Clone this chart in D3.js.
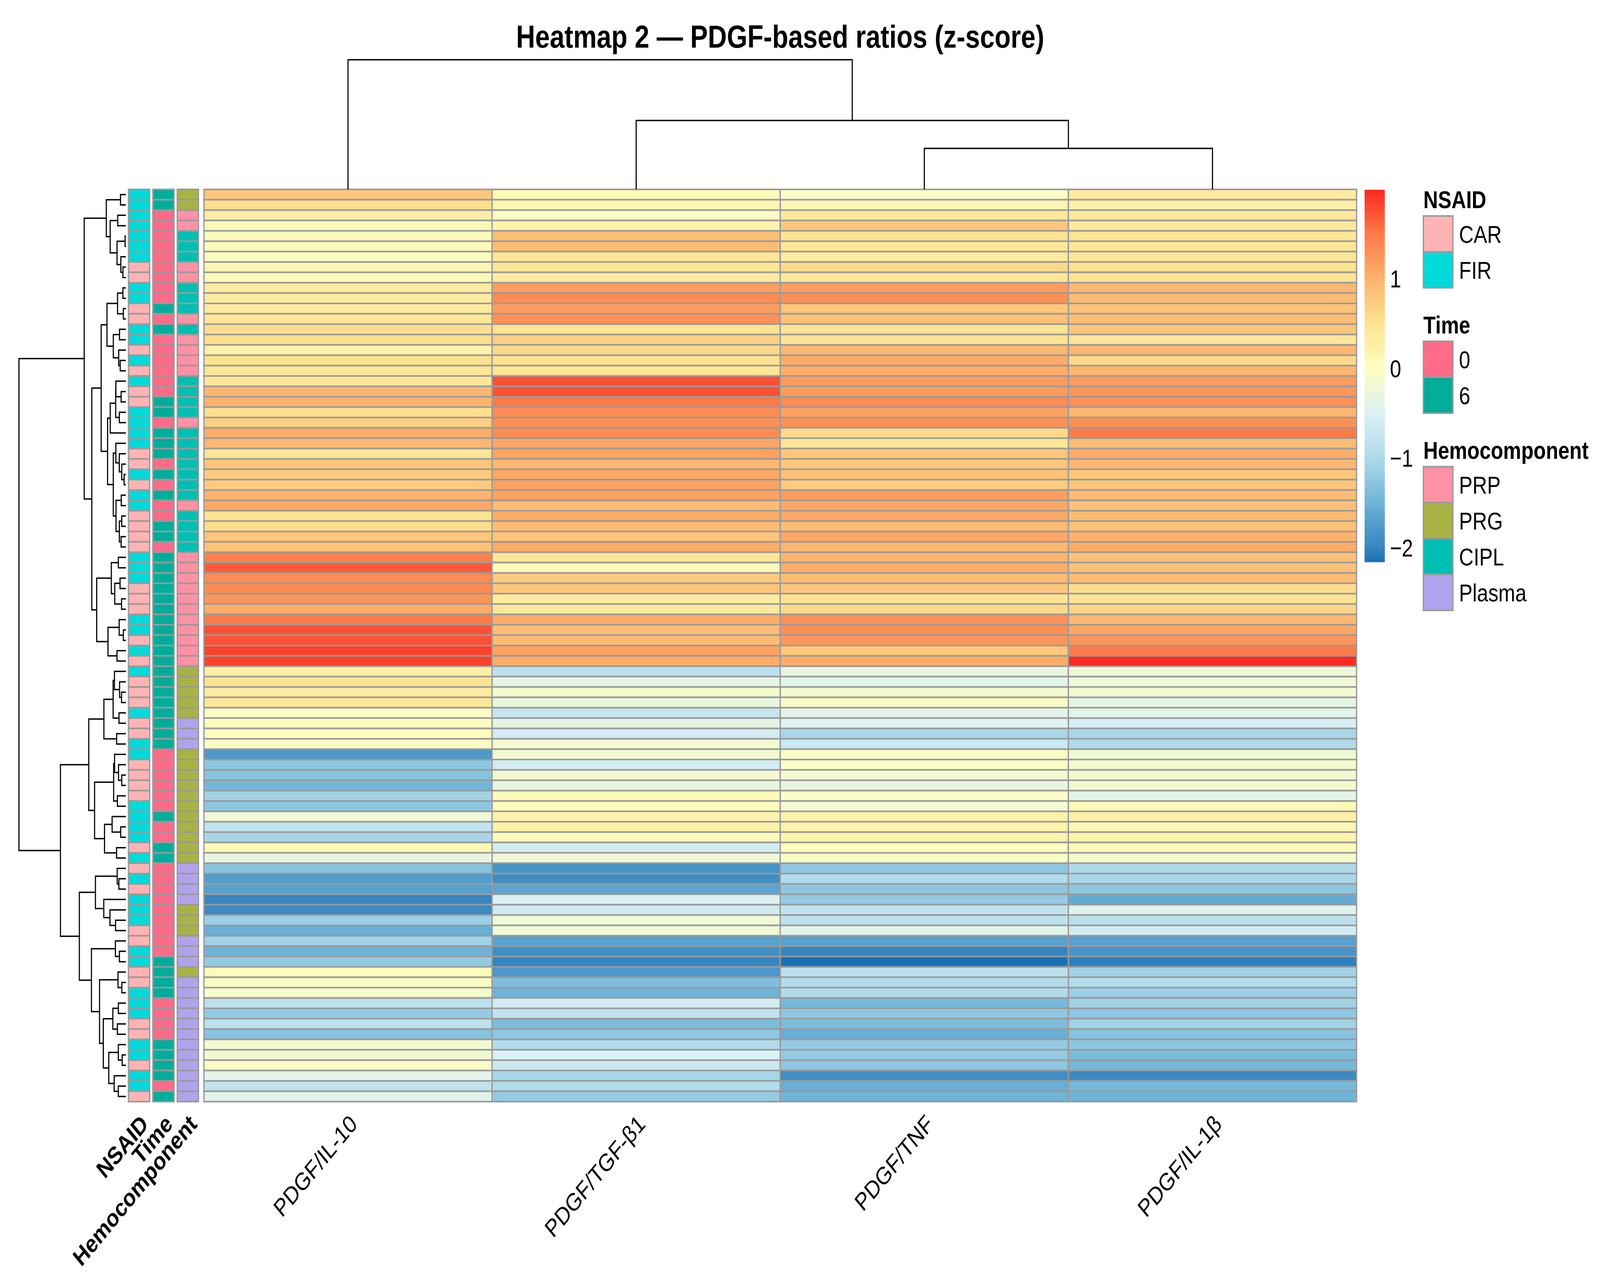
<!DOCTYPE html>
<html><head><meta charset="utf-8">
<script src="https://cdn.jsdelivr.net/npm/d3@7"></script>
<style>html,body{margin:0;padding:0;background:#fff;overflow:hidden;width:100%;height:100%;} svg{display:block;width:100vw;height:100vh;font-family:"Liberation Sans",Arial,Helvetica,sans-serif;}</style>
</head><body><svg id="chart" viewBox="0 0 4982 3288" preserveAspectRatio="none"></svg>
<script>
// ---------------- DATA ----------------
const chartTitle = "Heatmap 2 — PDGF-based ratios (z-score)";
const columns = ["PDGF/IL-10", "PDGF/TGF-β1", "PDGF/TNF", "PDGF/IL-1β"];

const zIL10 = [0.8,0.55,0.3,0.1,0.05,0.05,-0.02,0.15,0.1,0.35,0.35,0.35,0.45,0.55,0.55,
  0.25,0.5,0.45,0.45,0.95,1.0,0.55,0.7,1.05,0.95,0.45,0.8,0.75,0.75,1.0,
  1.1,0.5,0.55,0.8,0.85,1.45,1.7,1.35,1.35,1.25,1.05,1.5,1.75,1.75,1.85,1.85,
  0.3,0.5,0.35,0.4,-0.05,0.0,0.05,-0.05,-1.8,-1.25,-1.3,-1.45,-1.1,-1.25,-0.2,-0.8,
  -1.05,0.1,-0.3,-1.3,-1.75,-1.7,-2.0,-1.95,-1.15,-1.55,-1.1,-1.5,-1.2,0.05,-0.05,
  -0.1,-0.85,-1.2,-0.85,-1.3,-0.15,-0.15,-0.05,-0.4,-0.8,-0.4];
const zTGFb1 = [0.1,0.15,-0.05,0.2,0.9,0.9,0.45,0.45,0.35,1.2,1.35,1.2,1.3,0.5,0.7,
  0.6,0.5,0.45,1.75,1.75,1.5,1.35,1.3,1.35,1.1,1.15,0.95,1.1,1.15,1.15,
  0.9,1.05,0.9,0.8,1.05,0.45,0.05,0.75,0.8,0.35,0.4,1.05,0.9,0.9,1.15,1.05,
  -0.85,-0.35,-0.15,-0.3,-0.75,-0.35,-0.6,-0.15,-0.15,-0.6,-0.15,-0.3,0.1,0.05,0.2,0.25,
  0.05,-0.6,-0.2,-1.85,-1.9,-1.65,-0.5,-0.65,-0.2,-0.2,-1.7,-1.9,-2.0,-1.8,-1.35,
  -1.5,-0.6,-0.8,-1.4,-1.25,-0.95,-0.5,-0.7,-1.05,-0.95,-1.2];
const zTNF = [-0.05,0.15,0.4,0.8,0.5,0.45,0.35,0.6,0.45,1.2,1.3,0.8,0.85,0.5,0.5,
  0.95,1.05,1.05,1.2,1.2,1.35,1.15,1.3,0.6,0.45,0.8,0.8,0.85,0.75,1.2,
  1.1,1.1,0.9,1.1,0.95,1.0,1.05,0.9,0.8,0.5,0.6,1.3,1.3,1.25,0.8,1.05,
  -0.3,-0.4,-0.15,-0.05,-0.4,-0.45,-1.05,-0.7,-0.05,-0.05,-0.15,-0.3,-0.05,-0.15,0.25,0.25,
  0.2,0.0,-0.05,-1.25,-0.95,-1.25,-1.2,-0.8,-0.85,-0.4,-1.7,-2.0,-2.16,-0.85,-0.95,
  -0.95,-1.45,-1.25,-1.4,-1.55,-1.2,-1.2,-1.25,-1.9,-1.55,-1.5];
const zIL1b = [0.35,0.25,0.4,0.4,0.45,0.45,0.4,0.5,0.5,0.95,0.9,0.85,0.9,0.8,0.45,
  0.95,0.6,0.95,1.2,1.25,1.3,0.95,1.3,1.5,0.9,1.05,0.95,0.8,0.8,0.9,
  0.85,0.9,0.85,1.0,1.05,0.85,0.85,0.9,0.55,0.5,0.65,0.95,1.1,1.25,1.5,1.99,
  -0.2,-0.2,-0.15,-0.35,-0.4,-0.55,-1.05,-1.0,-0.2,-0.15,-0.15,-0.15,-0.4,0.1,0.25,0.15,
  0.2,0.05,-0.1,-1.0,-1.05,-1.25,-1.6,-0.45,-0.85,-0.6,-1.7,-1.85,-2.05,-1.1,-0.95,
  -1.15,-1.1,-1.25,-1.1,-1.3,-1.25,-1.4,-1.45,-1.95,-1.45,-1.5];

const nsaid = ["FIR","FIR","FIR","FIR","FIR","FIR","FIR","CAR","CAR","FIR","FIR","CAR","CAR","FIR","FIR",
  "CAR","FIR","CAR","FIR","CAR","CAR","FIR","FIR","FIR","FIR","CAR","CAR","FIR","CAR","FIR",
  "FIR","CAR","CAR","CAR","CAR","FIR","FIR","FIR","CAR","CAR","CAR","FIR","FIR","CAR","FIR","CAR",
  "FIR","CAR","CAR","CAR","FIR","CAR","CAR","FIR","FIR","CAR","CAR","CAR","CAR","FIR","FIR","FIR",
  "FIR","CAR","FIR","CAR","FIR","CAR","FIR","FIR","FIR","CAR","CAR","FIR","FIR","CAR","CAR",
  "FIR","FIR","FIR","CAR","CAR","FIR","FIR","CAR","FIR","FIR","CAR"];
const time = ["6","6","0","0","0","0","0","0","0","0","0","6","0","6","0",
  "0","0","0","0","0","6","6","0","6","6","6","0","6","0","6",
  "0","0","6","6","0","6","6","6","6","6","6","6","6","6","6","6",
  "6","6","6","6","6","6","6","6","0","0","0","0","0","0","6","0",
  "0","6","6","0","0","0","0","0","0","0","0","0","6","6","6",
  "6","0","0","0","0","6","6","6","6","0","6"];
const hemocomponent = ["PRG","PRG","PRP","PRP","CIPL","CIPL","CIPL","PRP","PRP","CIPL","CIPL","CIPL","PRP","CIPL","PRP",
  "PRP","PRP","PRP","CIPL","CIPL","CIPL","CIPL","PRP","CIPL","CIPL","CIPL","CIPL","CIPL","CIPL","CIPL",
  "PRP","CIPL","CIPL","CIPL","CIPL","PRP","PRP","PRP","PRP","PRP","PRP","PRP","PRP","PRP","PRP","PRP",
  "PRG","PRG","PRG","PRG","PRG","Plasma","Plasma","Plasma","PRG","PRG","PRG","PRG","PRG","PRG","PRG","PRG",
  "PRG","PRG","PRG","Plasma","Plasma","Plasma","Plasma","PRG","PRG","PRG","Plasma","Plasma","Plasma","PRG","Plasma",
  "Plasma","Plasma","Plasma","Plasma","Plasma","Plasma","Plasma","Plasma","Plasma","Plasma","Plasma"];

const annotationNames = ["NSAID", "Time", "Hemocomponent"];
const nsaidLevels = ["CAR", "FIR"];
const timeLevels = ["0", "6"];
const hemoLevels = ["PRP", "PRG", "CIPL", "Plasma"];
const legendTicks = [-2, -1, 0, 1];

// ---------------- STYLE ----------------
const annColors = {
  NSAID: {CAR: "#FFB3B5", FIR: "#00DADA"},
  Time: {"0": "#FF6B89", "6": "#00AD9A"},
  Hemocomponent: {PRP: "#FF91A4", PRG: "#A9B245", CIPL: "#00BFB2", Plasma: "#B0A3EB"}
};
const borderCol = "#9a9a9a";
const FS = 63;

const svg = d3.select("#chart");
svg.append("rect").attr("width", 4982).attr("height", 3288).attr("fill", "#fff");

const nRows = zIL10.length;
const rows = d3.range(nRows).map(i => [zIL10[i], zTGFb1[i], zTNF[i], zIL1b[i]]);
const allVals = rows.flat();
const [vmin, vmax] = d3.extent(allVals);

// colour scale (diverging blue-yellow-red), stops placed in data space
const stopVal = [-2.16, -2.0, -1.5, -1.0, -0.5, 0, 0.5, 1.0, 1.5, 1.99];
const stopCol = ["#1672B6","#3585C0","#6EB4D8","#AEDAEA","#DBF1F4","#FDFEC0","#FEE391","#FEB26C","#FE7A48","#FB2A20"];
const color = d3.scaleLinear().domain(stopVal).range(stopCol)
  .interpolate(d3.interpolateRgb).clamp(true);

// scales
const x = d3.scaleBand().domain(columns).range([635, 4224]);
const y = d3.scaleBand().domain(d3.range(nRows)).range([485, 2821]);
const ax = d3.scaleBand().domain(annotationNames).range([400, 618]).paddingInner(0.13);

// heatmap cells
const cells = [];
rows.forEach((r, i) => r.forEach((v, j) => cells.push({i, col: columns[j], v})));
svg.append("g").selectAll("rect").data(cells).join("rect")
  .attr("x", d => x(d.col)).attr("y", d => y(d.i))
  .attr("width", x.bandwidth()).attr("height", y.bandwidth())
  .attr("fill", d => color(d.v)).attr("stroke", borderCol).attr("stroke-width", 4);

// annotation cells
const annData = {NSAID: nsaid, Time: time, Hemocomponent: hemocomponent};
const annCells = [];
annotationNames.forEach(a => annData[a].forEach((lv, i) => annCells.push({a, i, lv})));
svg.append("g").selectAll("rect").data(annCells).join("rect")
  .attr("x", d => ax(d.a)).attr("y", d => y(d.i))
  .attr("width", ax.bandwidth()).attr("height", y.bandwidth())
  .attr("fill", d => annColors[d.a][d.lv]).attr("stroke", borderCol).attr("stroke-width", 4);

// ---------------- CLUSTERING (order-preserving complete linkage) ----------------
function clusterOrdered(vectors) {
  const D = vectors.map(a => vectors.map(b => Math.sqrt(d3.sum(a, (v, k) => (v - b[k]) ** 2))));
  let cl = vectors.map((v, i) => ({members: [i], node: {leaf: i, h: 0}}));
  while (cl.length > 1) {
    let best = Infinity, bi = 0;
    for (let i = 0; i < cl.length - 1; i++) {
      let m = 0;
      for (const p of cl[i].members) for (const q of cl[i + 1].members) m = Math.max(m, D[p][q]);
      if (m < best) { best = m; bi = i; }
    }
    const a = cl[bi], b = cl[bi + 1];
    cl.splice(bi, 2, {members: a.members.concat(b.members), node: {children: [a.node, b.node], h: best}});
  }
  return cl[0].node;
}
function placeNodes(node, leafPos) {
  if (node.children) {
    node.children.forEach(c => placeNodes(c, leafPos));
    node.pos = (node.children[0].pos + node.children[1].pos) / 2;
  } else node.pos = leafPos(node.leaf);
  return node;
}
function internals(node, out = []) {
  if (node.children) { out.push(node); node.children.forEach(c => internals(c, out)); }
  return out;
}

// row dendrogram
const rowRoot = placeNodes(clusterOrdered(rows), i => y(i) + y.bandwidth() / 2);
const hx = d3.scaleLinear().domain([0, rowRoot.h]).range([392, 59]);
svg.append("g").selectAll("path").data(internals(rowRoot)).join("path")
  .attr("d", n => {
    const [c1, c2] = n.children;
    return `M${hx(c1.h)},${c1.pos}H${hx(n.h)}V${c2.pos}H${hx(c2.h)}`;
  })
  .attr("fill", "none").attr("stroke", "#000").attr("stroke-width", 3.5);

// column dendrogram
const colVecs = columns.map((c, j) => rows.map(r => r[j]));
const colRoot = placeNodes(clusterOrdered(colVecs), j => x(columns[j]) + x.bandwidth() / 2);
const hy = d3.scaleLinear().domain([0, colRoot.h]).range([485, 153]);
svg.append("g").selectAll("path").data(internals(colRoot)).join("path")
  .attr("d", n => {
    const [c1, c2] = n.children;
    return `M${c1.pos},${hy(c1.h)}V${hy(n.h)}H${c2.pos}V${hy(c2.h)}`;
  })
  .attr("fill", "none").attr("stroke", "#000").attr("stroke-width", 3.5);

// ---------------- TEXT ----------------
svg.append("text").attr("x", (x.range()[0] + x.range()[1]) / 2).attr("y", 122)
  .attr("text-anchor", "middle").attr("font-weight", "bold").attr("font-size", 82)
  .text(chartTitle);

const labY = 2850;
svg.append("g").selectAll("text").data(columns).join("text")
  .attr("transform", d => `translate(${x(d) + x.bandwidth() / 2},${labY}) rotate(-45)`)
  .attr("text-anchor", "end").attr("dy", "0.72em").attr("font-size", FS)
  .text(d => d);
svg.append("g").selectAll("text").data(annotationNames).join("text")
  .attr("transform", d => `translate(${ax(d) + ax.bandwidth() / 2},${labY}) rotate(-45)`)
  .attr("text-anchor", "end").attr("dy", "0.72em").attr("font-size", FS).attr("font-weight", "bold")
  .text(d => d);

// ---------------- COLOUR LEGEND ----------------
const ly = d3.scaleLinear().domain([vmin, vmax]).range([1439, 486]);
const nSteps = 240;
const steps = d3.range(nSteps).map(k => vmin + (vmax - vmin) * k / nSteps);
const stepH = (ly(vmin) - ly(vmax)) / nSteps;
svg.append("g").selectAll("rect").data(steps).join("rect")
  .attr("x", 4249).attr("width", 63)
  .attr("y", d => ly(d) - stepH).attr("height", stepH + 0.6)
  .attr("fill", d => color(d + (vmax - vmin) / nSteps / 2));
svg.append("g").selectAll("text").data(legendTicks).join("text")
  .attr("x", 4328).attr("y", d => ly(d)).attr("dy", "0.36em")
  .attr("font-size", FS)
  .text(d => d < 0 ? "\u2212" + Math.abs(d) : String(d));

// ---------------- ANNOTATION LEGEND ----------------
const groups = [
  {name: "NSAID", levels: nsaidLevels},
  {name: "Time", levels: timeLevels},
  {name: "Hemocomponent", levels: hemoLevels}
];
let cy = 533;
const boxS = 92, lx = 4432;
groups.forEach(g => {
  svg.append("text").attr("x", lx).attr("y", cy).attr("font-size", FS).attr("font-weight", "bold").text(g.name);
  const top = cy + 20;
  const gg = svg.append("g");
  gg.selectAll("rect").data(g.levels).join("rect")
    .attr("x", lx).attr("y", (d, k) => top + k * boxS).attr("width", boxS).attr("height", boxS)
    .attr("fill", d => annColors[g.name][d]).attr("stroke", borderCol).attr("stroke-width", 4);
  gg.selectAll("text").data(g.levels).join("text")
    .attr("x", lx + boxS + 19).attr("y", (d, k) => top + k * boxS + boxS / 2).attr("dy", "0.36em")
    .attr("font-size", FS).text(d => d);
  cy = top + g.levels.length * boxS + 117;
});
</script></body></html>
